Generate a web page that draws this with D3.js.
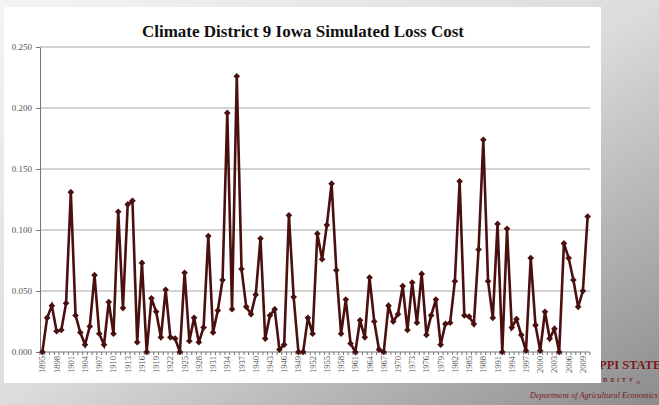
<!DOCTYPE html>
<html>
<head>
<meta charset="utf-8">
<script src="https://cdn.jsdelivr.net/npm/d3@7"></script>
<style>
  html, body { margin: 0; padding: 0; }
  body { width: 659px; height: 405px; overflow: hidden; }
  svg { display: block; }
</style>
</head>
<body>
<div id="chart"></div>
<script>
// years 1895 - 2010
var years = d3.range(1895, 2011);
var lossCost = [
  0.000, 0.028, 0.038, 0.017, 0.018, 0.040, 0.131, 0.030, 0.016, 0.006,
  0.021, 0.063, 0.015, 0.006, 0.041, 0.015, 0.115, 0.036, 0.121, 0.124,
  0.008, 0.073, 0.000, 0.044, 0.033, 0.012, 0.051, 0.012, 0.011, 0.000,
  0.065, 0.009, 0.028, 0.008, 0.020, 0.095, 0.016, 0.034, 0.059, 0.196,
  0.035, 0.226, 0.068, 0.037, 0.031, 0.047, 0.093, 0.011, 0.030, 0.035,
  0.002, 0.006, 0.112, 0.045, 0.000, 0.000, 0.028, 0.015, 0.097, 0.076,
  0.104, 0.138, 0.067, 0.015, 0.043, 0.007, 0.000, 0.026, 0.012, 0.061,
  0.025, 0.002, 0.000, 0.038, 0.025, 0.031, 0.054, 0.018, 0.057, 0.024,
  0.064, 0.014, 0.030, 0.043, 0.006, 0.023, 0.024, 0.058, 0.140, 0.030,
  0.029, 0.023, 0.084, 0.174, 0.058, 0.028, 0.105, 0.000, 0.101, 0.020,
  0.027, 0.014, 0.001, 0.077, 0.022, 0.001, 0.033, 0.011, 0.019, 0.000,
  0.089, 0.077, 0.059, 0.037, 0.050, 0.111
];
var yTicks = [0, 0.05, 0.10, 0.15, 0.20, 0.25];
var xLabelYears = years.filter(function(d) { return (d - 1895) % 3 === 0; });

var width = 659, height = 405;
var plot = {left: 40, right: 590, top: 47, bottom: 352};
var lineColor = "#4a0f0f";
var serif = "'Liberation Serif', 'DejaVu Serif', serif";

var svg = d3.select("#chart").append("svg")
    .attr("width", width)
    .attr("height", height);

// background gradient
var defs = svg.append("defs");
var grad = defs.append("linearGradient")
    .attr("id", "bg")
    .attr("x1", "0%").attr("y1", "0%")
    .attr("x2", "100%").attr("y2", "100%");
grad.append("stop").attr("offset", "0%").attr("stop-color", "#f4f4f4");
grad.append("stop").attr("offset", "50%").attr("stop-color", "#dcdcdc");
grad.append("stop").attr("offset", "100%").attr("stop-color", "#8c8c8c");

svg.append("rect")
    .attr("width", width).attr("height", height)
    .attr("fill", "url(#bg)");

// logo text behind the panel
var logo = svg.append("text")
    .attr("y", 369)
    .attr("font-family", serif)
    .attr("font-weight", "bold")
    .attr("font-size", 12.5)
    .attr("fill", "#7a1a1f")
    .text("MISSISSIPPI STATE");
logo.attr("x", 599 - logo.node().getSubStringLength(0, 8));

var uni = svg.append("text")
    .attr("y", 382)
    .attr("font-family", "'Liberation Sans', Arial, sans-serif")
    .attr("font-weight", "bold")
    .attr("font-size", 6)
    .attr("letter-spacing", 3)
    .attr("fill", "#7a1a1f")
    .text("UNIVERSITY");
uni.attr("x", 603 - uni.node().getSubStringLength(0, 5));
svg.append("text")
    .attr("x", 636).attr("y", 384)
    .attr("font-family", "'Liberation Sans', Arial, sans-serif")
    .attr("font-size", 3)
    .attr("fill", "#7a1a1f")
    .text("TM");

svg.append("text")
    .attr("x", 530).attr("y", 398)
    .attr("font-family", serif)
    .attr("font-style", "italic")
    .attr("font-size", 8.2)
    .attr("fill", "#7a1a1f")
    .text("Department of Agricultural Economics");

// white panel
svg.append("rect")
    .attr("x", 4).attr("y", 7)
    .attr("width", 597).attr("height", 376)
    .attr("fill", "#ffffff");

// title
svg.append("text")
    .attr("x", 303).attr("y", 37)
    .attr("text-anchor", "middle")
    .attr("font-family", serif)
    .attr("font-weight", "bold")
    .attr("font-size", 17)
    .attr("fill", "#111")
    .text("Climate District 9 Iowa Simulated Loss Cost");

// scales
var x = d3.scaleBand()
    .domain(years)
    .range([plot.left, plot.right])
    .padding(0);

var y = d3.scaleLinear()
    .domain([0, 0.25])
    .range([plot.bottom, plot.top]);

// gridlines
svg.append("g").selectAll("line")
    .data(yTicks.slice(1))
    .enter()
    .append("line")
    .attr("x1", plot.left).attr("x2", plot.right)
    .attr("y1", function(d) { return y(d); })
    .attr("y2", function(d) { return y(d); })
    .attr("stroke", "#a6a6a6")
    .attr("stroke-width", 1);

// y axis
var yAxis = d3.axisLeft(y)
    .tickValues(yTicks)
    .tickFormat(d3.format(".3f"))
    .tickSize(4)
    .tickSizeOuter(0)
    .tickPadding(4);

var yAxisGroup = svg.append("g")
    .attr("transform", "translate(" + plot.left + ",0)")
    .call(yAxis);
yAxisGroup.select(".domain").attr("stroke", "#777");
yAxisGroup.selectAll(".tick line").attr("stroke", "#777");
yAxisGroup.selectAll("text")
    .attr("font-family", serif)
    .attr("font-size", 9)
    .attr("fill", "#555");

// x axis
var xAxisGroup = svg.append("g")
    .attr("transform", "translate(0," + plot.bottom + ")");

xAxisGroup.append("line")
    .attr("x1", plot.left).attr("x2", plot.right)
    .attr("stroke", "#777");

xAxisGroup.selectAll(".xtick")
    .data(years.concat([2011]))
    .enter()
    .append("line")
    .attr("class", "xtick")
    .attr("x1", function(d) { return d === 2011 ? plot.right : x(d); })
    .attr("x2", function(d) { return d === 2011 ? plot.right : x(d); })
    .attr("y1", 0).attr("y2", 3)
    .attr("stroke", "#777");

xAxisGroup.selectAll(".xlabel")
    .data(xLabelYears)
    .enter()
    .append("text")
    .attr("class", "xlabel")
    .attr("transform", function(d) {
        return "translate(" + (x(d) + x.bandwidth() / 2 + 3) + ",4) rotate(-90)";
    })
    .attr("text-anchor", "end")
    .attr("font-family", serif)
    .attr("font-size", 8.5)
    .attr("fill", "#555")
    .text(function(d) { return d; });

// line
var line = d3.line()
    .x(function(d, i) { return x(years[i]) + x.bandwidth() / 2; })
    .y(function(d) { return y(d); });

svg.append("path")
    .datum(lossCost)
    .attr("d", line)
    .attr("fill", "none")
    .attr("stroke", lineColor)
    .attr("stroke-width", 2.6)
    .attr("stroke-linejoin", "miter");

// markers
var diamond = d3.symbol().type(d3.symbolSquare).size(22);
svg.append("g").selectAll("path")
    .data(lossCost)
    .enter()
    .append("path")
    .attr("d", diamond)
    .attr("transform", function(d, i) {
        return "translate(" + (x(years[i]) + x.bandwidth() / 2) + "," + y(d) + ") rotate(45)";
    })
    .attr("fill", lineColor);
</script>
</body>
</html>
